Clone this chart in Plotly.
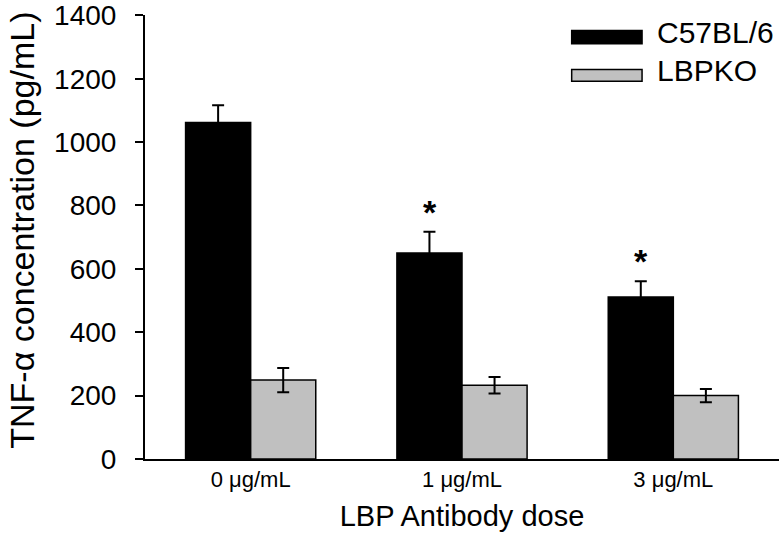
import plotly.graph_objects as go

categories = ["0 \u03bcg/mL", "1 \u03bcg/mL", "3 \u03bcg/mL"]
series_names = ["C57BL/6", "LBPKO"]
c57_values = [1062, 650, 511]
c57_errors = [54, 67, 50]
lbpko_values = [249, 233, 200]
lbpko_errors = [38, 26, 21]
significant = [False, True, True]
y_ticks = [0, 200, 400, 600, 800, 1000, 1200, 1400]
y_title = "TNF-\u03b1 concentration (pg/mL)"
x_title = "LBP Antibody dose"

FONT = "Liberation Sans, Arial, sans-serif"
colors = ["#000000", "#c0c0c0"]

fig = go.Figure()
for name, vals, errs, col in [
    (series_names[0], c57_values, c57_errors, colors[0]),
    (series_names[1], lbpko_values, lbpko_errors, colors[1]),
]:
    fig.add_trace(go.Bar(
        x=categories, y=vals, name=name,
        marker=dict(color=col, line=dict(color="black", width=1.5)),
        error_y=dict(type="data", array=errs, symmetric=True, visible=True,
                     color="black", thickness=2, width=6),
        showlegend=False,
    ))

# significance asterisks above the C57BL/6 bars
for cat, v, e, sig in zip(categories, c57_values, c57_errors, significant):
    if sig:
        fig.add_annotation(x=cat, y=v + e, xref="x", yref="y", text="<b>*</b>",
                           showarrow=False, xshift=-32, yshift=-1,
                           yanchor="bottom",
                           font=dict(family=FONT, size=34, color="black"))

# legend drawn manually with wide rectangle swatches
leg_rows = [(0.935, 0.965), (0.851, 0.877)]
for name, col, (y0, y1) in zip(series_names, colors, leg_rows):
    fig.add_shape(type="rect", xref="paper", yref="paper",
                  x0=0.673, x1=0.784, y0=y0, y1=y1,
                  fillcolor=col, line=dict(color="black", width=1.5))
    fig.add_annotation(xref="paper", yref="paper", x=0.805, y=(y0 + y1) / 2 + 0.01,
                       text=name, showarrow=False, xanchor="left", yanchor="middle",
                       font=dict(family=FONT, size=30, color="black"))

# y-axis title as rotated annotation (placed at the far left like the original)
fig.add_annotation(xref="paper", yref="paper", x=-0.194, y=0.514,
                   text=y_title, textangle=-90, showarrow=False,
                   xanchor="center", yanchor="middle",
                   font=dict(family=FONT, size=34, color="black"))

fig.update_layout(
    width=784, height=552,
    margin=dict(l=145, r=5, t=15, b=93),
    paper_bgcolor="white", plot_bgcolor="white",
    barmode="group", bargap=0.384, bargroupgap=0,
    font=dict(family=FONT, color="black"),
    xaxis=dict(
        automargin=False,
        showline=True, linecolor="black", linewidth=2,
        ticks="", showgrid=False,
        tickfont=dict(size=22, family=FONT),
        title=dict(text=x_title, font=dict(size=29, family=FONT), standoff=14),
    ),
    yaxis=dict(
        automargin=False,
        range=[0, 1401], tickvals=y_ticks,
        showline=True, linecolor="black", linewidth=2,
        ticks="outside", ticklen=8, tickwidth=2, tickcolor="black",
        ticklabelstandoff=13,
        showgrid=False, zeroline=False,
        tickfont=dict(size=28, family=FONT),
    ),
)

fig.write_html("out.html", config={"displayModeBar": False},
               post_script="document.body.style.margin='0px';")
